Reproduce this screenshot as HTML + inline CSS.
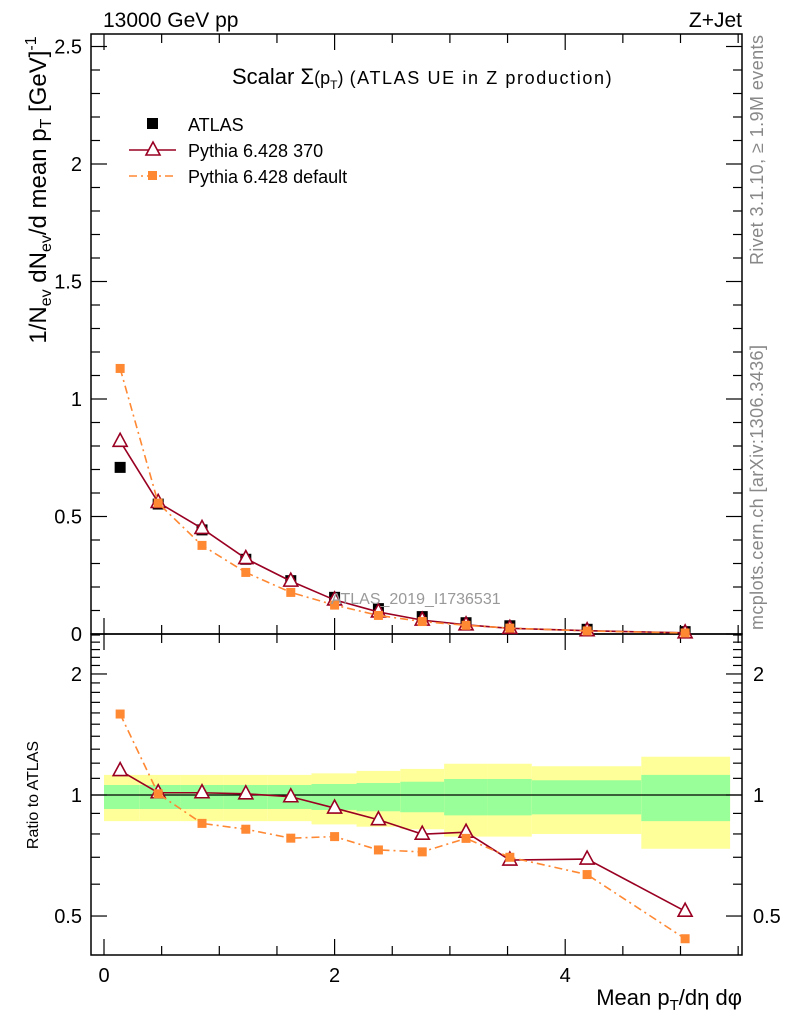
<!DOCTYPE html>
<html><head><meta charset="utf-8"><style>
body{margin:0;background:#fff}
svg{display:block;font-family:"Liberation Sans",sans-serif}
</style></head><body>
<svg id="c" width="786" height="1024" viewBox="0 0 786 1024"></svg>
<script>
const xVals=[0.14,0.47,0.85,1.23,1.62,2.0,2.38,2.76,3.14,3.52,4.19,5.04];
const binEdges=[0,0.31,0.66,1.04,1.42,1.80,2.19,2.57,2.95,3.33,3.71,4.66,5.43];
const atlas=[0.709,0.553,0.443,0.318,0.227,0.156,0.108,0.074,0.048,0.035,0.020,0.010];
const py370=[0.82,0.56,0.449,0.321,0.225,0.145,0.094,0.059,0.039,0.024,0.014,0.005];
const pyDef=[1.13,0.557,0.377,0.262,0.177,0.123,0.079,0.053,0.037,0.025,0.013,0.0044];
const ratio370=[1.15,1.013,1.013,1.007,0.99,0.928,0.868,0.799,0.808,0.689,0.693,0.514];
const ratioDef=[1.59,1.007,0.85,0.822,0.781,0.788,0.73,0.722,0.78,0.70,0.634,0.439];
const yelUp=[1.122,1.122,1.122,1.122,1.122,1.132,1.148,1.161,1.196,1.196,1.179,1.245];
const yelDn=[0.861,0.861,0.861,0.861,0.861,0.845,0.834,0.822,0.788,0.788,0.80,0.735];
const grnUp=[1.059,1.059,1.059,1.059,1.059,1.065,1.071,1.079,1.096,1.096,1.088,1.122];
const grnDn=[0.923,0.923,0.923,0.923,0.923,0.918,0.911,0.906,0.890,0.890,0.895,0.861];
const yTicksMain=["0","0.5","1","1.5","2","2.5"];
const xTickLabels=["0","2","4"];

const S=document.getElementById('c'),NS='http://www.w3.org/2000/svg';
const L=91,R=742,T=34,M=634,B=955;
const X=v=>104+v*115.3;
const Y=v=>634-v*235;
const RY=r=>795-174.6*Math.log(r);
function el(tag,at,parent){const e=document.createElementNS(NS,tag);for(const k in at)e.setAttribute(k,at[k]);(parent||S).appendChild(e);return e;}
function txt(s,x,y,at){const e=el('text',Object.assign({x:x,y:y},at));e.textContent=s;return e;}

const gBand=el('g',{});


for(let i=0;i<xVals.length;i++){
  const x0=X(binEdges[i]),x1=X(binEdges[i+1]);
  const y=el('rect',{x:x0,y:RY(yelUp[i]),width:x1-x0,height:RY(yelDn[i])-RY(yelUp[i]),fill:'#ffff99'},gBand);
  
  
  const g=el('rect',{x:x0,y:RY(grnUp[i]),width:x1-x0,height:RY(grnDn[i])-RY(grnUp[i]),fill:'#99ff99'},gBand);
  
  
}
el('line',{x1:L,x2:R,y1:RY(1),y2:RY(1),stroke:'#000','stroke-width':1.2});

el('rect',{x:L,y:T,width:R-L,height:M-T,fill:'none',stroke:'#000','stroke-width':1.5});
el('rect',{x:L,y:M,width:R-L,height:B-M,fill:'none',stroke:'#000','stroke-width':1.5});

for(let v=0;v<=5.5;v+=0.5){
  const x=X(v),maj=(Math.abs(v%2)<1e-6);const len=maj?16:9;
  for(const [yb,d] of [[M,-1],[B,-1],[T,1],[M,1]]) el('line',{x1:x,x2:x,y1:yb,y2:yb+d*len,stroke:'#000','stroke-width':1.2});
}
xTickLabels.forEach(s=>{const t=txt(s,X(+s),982,{'font-size':20,'text-anchor':'middle'});
});
for(let k=0;k<=25;k++){const v=k/10,y=Y(v),maj=(k%5===0),len=maj?16:9;
  el('line',{x1:L,x2:L+len,y1:y,y2:y,stroke:'#000','stroke-width':1.2});
  el('line',{x1:R,x2:R-len,y1:y,y2:y,stroke:'#000','stroke-width':1.2});}
yTicksMain.forEach(s=>{const t=txt(s,82,Y(+s)+7,{'font-size':20,'text-anchor':'end'});
});
for(let k=5;k<=25;k++){const r=k/10;const y=RY(r);if(y<M||y>B)continue;const maj=(k===5||k===10||k===20),len=maj?16:9;
  el('line',{x1:L,x2:L+len,y1:y,y2:y,stroke:'#000','stroke-width':1.2});
  el('line',{x1:R,x2:R-len,y1:y,y2:y,stroke:'#000','stroke-width':1.2});}
[["0.5",0.5],["1",1],["2",2]].forEach(([s,r])=>{
  const a=txt(s,82,RY(r)+7,{'font-size':20,'text-anchor':'end'});
  const b=txt(s,753,RY(r)+7,{'font-size':20});});

function series(vals,yf,kind,name){
  const g=el('g',{});
  const pts=vals.map((v,i)=>X(xVals[i])+','+yf(v)).join(' ');
  if(kind==='tri') el('polyline',{points:pts,fill:'none',stroke:'#990022','stroke-width':1.6},g);
  if(kind==='sq') el('polyline',{points:pts,fill:'none',stroke:'#ff8833','stroke-width':1.6,'stroke-dasharray':'8,4,2,4'},g);
  vals.forEach((v,i)=>{const x=X(xVals[i]),y=yf(v);let m;
    if(kind==='tri') m=el('polygon',{points:`${x},${y-8} ${x-7},${y+5} ${x+7},${y+5}`,fill:'#fff',stroke:'#990022','stroke-width':1.6},g);
    else if(kind==='sq') m=el('rect',{x:x-4.5,y:y-4.5,width:9,height:9,fill:'#ff8833'},g);
    else m=el('rect',{x:x-5.5,y:y-5.5,width:11,height:11,fill:'#000'},g);
    });
}
series(atlas,Y,'atlas','atlas-data');
series(py370,Y,'tri','pythia-370');
series(pyDef,Y,'sq','pythia-default');
series(ratio370,RY,'tri','ratio-pythia-370');
series(ratioDef,RY,'sq','ratio-pythia-default');
</script>
<svg width="786" height="1024" style="position:absolute;left:0;top:0" font-family="Liberation Sans, sans-serif">
<text x="103" y="27" font-size="21">13000 GeV pp</text>
<text x="742" y="27" font-size="21" text-anchor="end">Z+Jet</text>
<text x="232" y="84" font-size="22">Scalar Σ<tspan font-size="18">(p</tspan><tspan font-size="12" dy="5">T</tspan><tspan font-size="18" dy="-5">)</tspan> <tspan font-size="18" textLength="262">(ATLAS UE in Z production)</tspan></text>
<g>
<rect x="147" y="118" width="11" height="11" fill="#000"/>
<text x="188" y="131" font-size="18">ATLAS</text>
<line x1="129" x2="176" y1="150" y2="150" stroke="#990022" stroke-width="1.6"/>
<polygon points="153,142 146,155 160,155" fill="#fff" stroke="#990022" stroke-width="1.6"/>
<text x="188" y="157" font-size="18">Pythia 6.428 370</text>
<line x1="129" x2="176" y1="176" y2="176" stroke="#ff8833" stroke-width="1.6" stroke-dasharray="8,4,2,4"/>
<rect x="148" y="171" width="9" height="9" fill="#ff8833"/>
<text x="188" y="183" font-size="18">Pythia 6.428 default</text>
</g>
<text x="331" y="604" font-size="16" fill="#999">ATLAS_2019_I1736531</text>
<text transform="translate(763,265) rotate(-90)" font-size="18" textLength="230" fill="#888">Rivet 3.1.10, ≥ 1.9M events</text>
<text transform="translate(763,630) rotate(-90)" font-size="18" textLength="285" fill="#888">mcplots.cern.ch [arXiv:1306.3436]</text>
<text transform="translate(46,190) rotate(-90)" font-size="24" text-anchor="middle">1/N<tspan font-size="16" dy="5">ev</tspan><tspan dy="-5"> dN</tspan><tspan font-size="16" dy="5">ev</tspan><tspan dy="-5">/d mean p</tspan><tspan font-size="16" dy="5">T</tspan><tspan dy="-5">  [GeV]</tspan><tspan font-size="16" dy="-10">-1</tspan></text>
<text transform="translate(38,795) rotate(-90)" font-size="16" text-anchor="middle">Ratio to ATLAS</text>
<text x="742" y="1005" font-size="22" text-anchor="end">Mean p<tspan font-size="15" dy="5">T</tspan><tspan dy="-5">/dη dφ</tspan></text>
</svg>
</body></html>
